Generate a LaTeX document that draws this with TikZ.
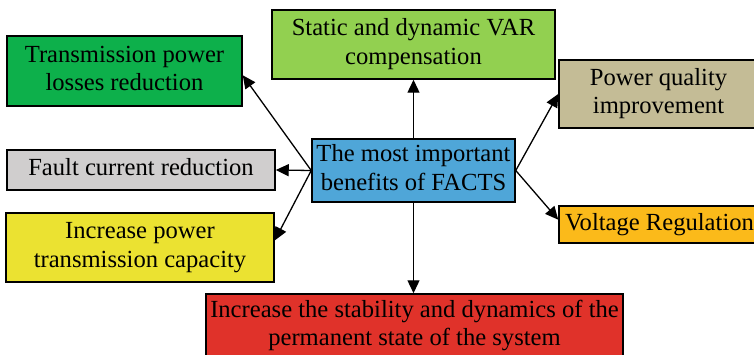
\documentclass[tikz,border=0pt]{standalone}
\usepackage{fontspec}
\setmainfont{Liberation Serif}
\usetikzlibrary{arrows.meta,calc}

\definecolor{cTrans}{HTML}{0DB04B}
\definecolor{cVar}{HTML}{92D050}
\definecolor{cPq}{HTML}{C4BC96}
\definecolor{cFault}{HTML}{D0CECE}
\definecolor{cCenter}{HTML}{4FA6D8}
\definecolor{cCap}{HTML}{EBE231}
\definecolor{cVolt}{HTML}{FBBA1A}
\definecolor{cRed}{HTML}{E0322A}

\tikzset{
  benefit/.style={draw=black, line width=1.5pt, align=center, inner sep=0pt,
    font=\fontsize{24.6}{28.5}\selectfont},
  link/.style={line width=1.3pt, -{Triangle[length=13pt,width=12pt]}}
}

\begin{document}
\begin{tikzpicture}[x=1pt,y=-1pt]
\useasboundingbox (0,0) rectangle (754,355);

\node[benefit, fill=cTrans, minimum width=235, minimum height=70] (trans) at (124.5,71)
  {\strut Transmission power\\\strut losses reduction};
\node[benefit, fill=cVar, minimum width=283, minimum height=69] (var) at (413.5,44.5)
  {\strut Static and dynamic VAR\\\strut compensation};
\node[benefit, fill=cPq, minimum width=199, minimum height=68] (pq) at (658.5,94)
  {\strut Power quality\\\strut improvement};
\node[benefit, fill=cFault, minimum width=268, minimum height=40] (fault) at (141,170)
  {\strut Fault current reduction};
\node[benefit, fill=cCenter, minimum width=203, minimum height=63] (ctr) at (413.5,170.5)
  {\strut The most important\\\strut benefits of FACTS};
\node[benefit, fill=cCap, minimum width=268, minimum height=69] (cap) at (140,247.5)
  {\strut Increase power\\\strut transmission capacity};
\node[benefit, fill=cVolt, minimum width=201, minimum height=37] (volt) at (659.5,224.5)
  {\strut Voltage Regulation};
\node[benefit, fill=cRed, minimum width=417, minimum height=64] (red) at (414.5,326)
  {\strut Increase the stability and dynamics of the\\\strut permanent state of the system};

\draw[link] (ctr.north) -- (var.south);
\draw[link] (ctr.west) -- ($(trans.east)!0.12!(trans.south east)$);
\draw[link] (ctr.west) -- (fault.east);
\draw[link] (ctr.west) -- ($(cap.east)!0.2!(cap.north east)$);
\draw[link] (ctr.east) -- (pq.west);
\draw[link] (ctr.east) -- ($(volt.west)!0.25!(volt.north west)$);
\draw[link] (ctr.south) -- (ctr.south |- red.north);
\end{tikzpicture}
\end{document}
